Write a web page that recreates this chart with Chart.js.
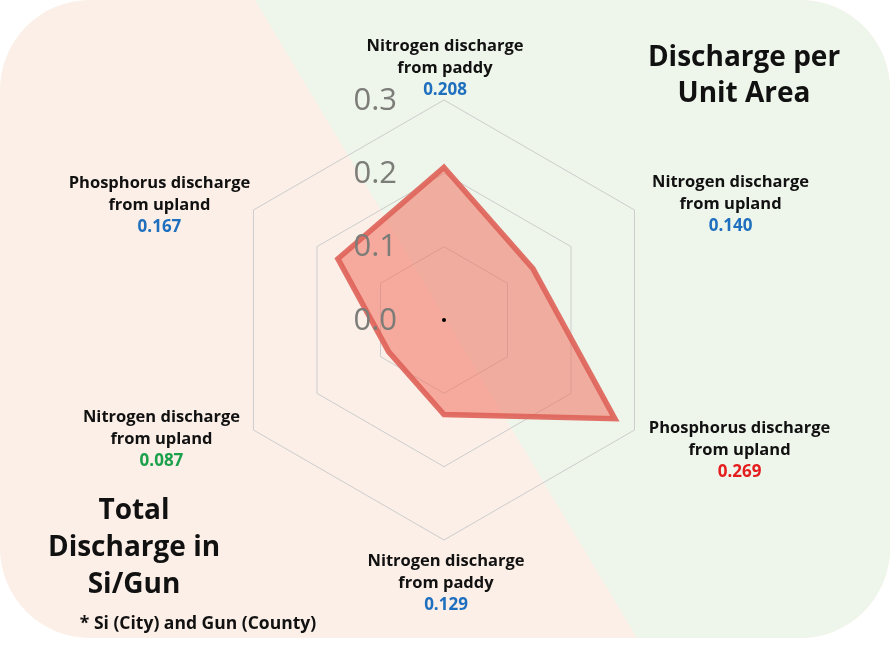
<!DOCTYPE html>
<html><head><meta charset="utf-8">
<script src="https://cdn.jsdelivr.net/npm/chart.js@4"></script>
<style>html,body{margin:0;padding:0;background:#fff;}#wrap{width:890px;height:645px;}canvas{display:block;}</style>
</head><body><div id="wrap"><canvas id="c" width="890" height="645"></canvas></div>
<script>
const categories = [
  ['Nitrogen discharge', 'from paddy'],
  ['Nitrogen discharge', 'from upland'],
  ['Phosphorus discharge', 'from upland'],
  ['Nitrogen discharge', 'from paddy'],
  ['Nitrogen discharge', 'from upland'],
  ['Phosphorus discharge', 'from upland']
];
const values = [0.208, 0.140, 0.269, 0.129, 0.087, 0.167];
const valueLabels = ['0.208', '0.140', '0.269', '0.129', '0.087', '0.167'];
const valueColors = ['#1f6fbf', '#1f6fbf', '#e41e1e', '#1f6fbf', '#1ba04c', '#1f6fbf'];
const tickMin = 0, tickMax = 0.3, tickStep = 0.1;
const titleRight = ['Discharge per', 'Unit Area'];
const titleLeft = ['Total', 'Discharge in', 'Si/Gun'];
const footnote = '* Si (City) and Gun (County)';

// label block centre offsets from each outer vertex (style only)
const labelOffsets = [[1, -32], [96, -6], [105, 20], [2, 43], [-92, 9], [-94, -5]];

const FONT = '"Open Sans", "Noto Sans", sans-serif';

const bgPlugin = {
  id: 'bg',
  beforeDraw(chart) {
    const ctx = chart.ctx;
    ctx.save();
    ctx.fillStyle = '#ffffff';
    ctx.fillRect(0, 0, 890, 645);
    ctx.beginPath();
    if (ctx.roundRect) ctx.roundRect(0, 0, 890, 638, 90); else ctx.rect(0, 0, 890, 638);
    ctx.clip();
    ctx.fillStyle = '#fbefe7';
    ctx.fillRect(0, 0, 890, 638);
    ctx.beginPath();
    ctx.moveTo(255, 0); ctx.lineTo(890, 0); ctx.lineTo(890, 638); ctx.lineTo(637, 638); ctx.closePath();
    ctx.fillStyle = '#eef5ea';
    ctx.fill();
    ctx.restore();
  }
};

const textPlugin = {
  id: 'texts',
  afterDatasetsDraw(chart) {
    const ctx = chart.ctx;
    const s = chart.scales.r;
    ctx.save();
    // tick labels
    ctx.font = '400 31px ' + FONT;
    ctx.fillStyle = '#7c7c78';
    ctx.textAlign = 'right';
    ctx.textBaseline = 'middle';
    s.ticks.forEach(t => {
      const y = s.yCenter - s.getDistanceFromCenterForValue(t.value);
      ctx.fillText(t.value.toFixed(1), s.xCenter - 47, y + 1);
    });
    // centre dot
    ctx.fillStyle = '#000';
    ctx.beginPath(); ctx.arc(s.xCenter, s.yCenter, 2, 0, Math.PI * 2); ctx.fill();
    // point labels
    ctx.textAlign = 'center';
    categories.forEach((lines, i) => {
      const p = s.getPointPositionForValue(i, s.max);
      const cx = p.x + labelOffsets[i][0], cy = p.y + labelOffsets[i][1];
      ctx.font = 'bold 16.5px ' + FONT;
      ctx.fillStyle = '#111';
      ctx.fillText(lines[0], cx, cy - 21.5);
      ctx.fillText(lines[1], cx, cy);
      ctx.font = 'bold 17px ' + FONT;
      ctx.fillStyle = valueColors[i];
      ctx.fillText(valueLabels[i], cx, cy + 22);
    });
    // titles
    ctx.fillStyle = '#111';
    ctx.font = 'bold 28px ' + FONT;
    titleRight.forEach((t, k) => ctx.fillText(t, 744, 58 + k * 36));
    titleLeft.forEach((t, k) => ctx.fillText(t, 134, 511 + k * 37));
    ctx.font = 'bold 17.5px ' + FONT;
    ctx.fillText(footnote, 198, 624);
    ctx.restore();
  }
};

new Chart(document.getElementById('c'), {
  type: 'radar',
  data: {
    labels: categories,
    datasets: [{
      data: values,
      fill: true,
      backgroundColor: 'rgba(242,108,90,0.52)',
      borderColor: 'rgba(222,100,90,0.92)',
      borderWidth: 5.5,
      borderJoinStyle: 'miter',
      pointRadius: 0,
      pointHoverRadius: 0
    }]
  },
  options: {
    responsive: false,
    animation: false,
    layout: { padding: { left: 224, right: 226, top: 100, bottom: 105 } },
    plugins: { legend: { display: false }, tooltip: { enabled: false } },
    scales: {
      r: {
        min: tickMin, max: tickMax,
        ticks: { stepSize: tickStep, display: false },
        grid: { color: '#cdcdcd', lineWidth: 1 },
        angleLines: { display: false },
        pointLabels: { display: false }
      }
    }
  },
  plugins: [bgPlugin, textPlugin]
});
</script></body></html>
